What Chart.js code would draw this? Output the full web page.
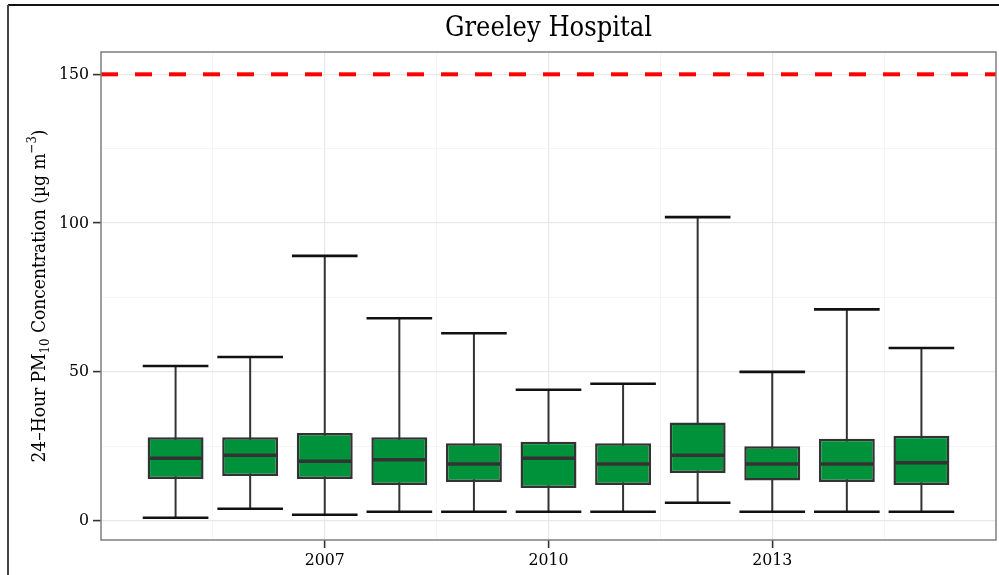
<!DOCTYPE html>
<html>
<head>
<meta charset="utf-8">
<script src="https://cdn.jsdelivr.net/npm/chart.js@4.4.1/dist/chart.umd.min.js"></script>
<style>
  html, body { margin: 0; padding: 0; background: #fff; }
  #wrap { width: 999px; height: 575px; position: relative; }
</style>
</head>
<body>
<div id="wrap"><canvas id="chart" width="999" height="575"></canvas></div>
<script>
const years = [2005, 2006, 2007, 2008, 2009, 2010, 2011, 2012, 2013, 2014, 2015];
const whiskerLow = [1, 4, 2, 3, 3, 3, 3, 6, 3, 3, 3];
const q1 = [14, 15, 14, 12, 13, 11, 12, 16, 13.5, 13, 12];
const median = [21, 22, 20, 20.5, 19, 21, 19, 22, 19, 19, 19.5];
const q3 = [28, 28, 29.5, 28, 26, 26.5, 26, 33, 25, 27.5, 28.5];
const whiskerHigh = [52, 55, 89, 68, 63, 44, 46, 102, 50, 71, 58];

const standard = 150;
const xRange = [2004, 2016];
const yRange = [-6.5, 157.5];
const xMajor = [2007, 2010, 2013];
const xMinor = [2005.5, 2008.5, 2011.5, 2014.5];
const yMajor = [0, 50, 100, 150];
const yMinor = [25, 75, 125];

const serif = '"DejaVu Serif Condensed", "Liberation Serif", serif';
Chart.defaults.font.family = serif;
Chart.defaults.color = '#111';

const boxData = years.map((y, i) => ({ x: y, y: [q1[i], q3[i]] }));
const limitData = [{ x: xRange[0], y: standard }, { x: xRange[1], y: standard }];

const isMajorX = v => xMajor.includes(v);
const isMajorY = v => yMajor.includes(v);

// whiskers, caps, medians, panel frame, title, axis label
const boxExtras = {
  id: 'boxExtras',
  beforeDraw(chart) {
    const ctx = chart.ctx;
    ctx.save();
    ctx.lineWidth = 2;
    ctx.strokeStyle = '#111';
    ctx.beginPath();
    ctx.moveTo(8, 5);
    ctx.lineTo(999, 5);
    ctx.stroke();
    ctx.strokeStyle = '#444';
    ctx.beginPath();
    ctx.moveTo(8, 5);
    ctx.lineTo(8, 575);
    ctx.stroke();
    ctx.restore();
  },
  beforeDatasetsDraw(chart) {
    const { ctx, scales: { x, y } } = chart;
    ctx.save();
    years.forEach((yr, i) => {
      const px = x.getPixelForValue(yr);
      ctx.strokeStyle = '#333';
      ctx.lineWidth = 2;
      ctx.beginPath();
      ctx.moveTo(px, y.getPixelForValue(whiskerLow[i]));
      ctx.lineTo(px, y.getPixelForValue(whiskerHigh[i]));
      ctx.stroke();
      const l = x.getPixelForValue(yr - 0.44);
      const r = x.getPixelForValue(yr + 0.44);
      ctx.strokeStyle = '#111';
      ctx.lineWidth = 2.6;
      [whiskerLow[i], whiskerHigh[i]].forEach(v => {
        const py = y.getPixelForValue(v);
        ctx.beginPath();
        ctx.moveTo(l, py);
        ctx.lineTo(r, py);
        ctx.stroke();
      });
    });
    ctx.restore();
  },
  afterDatasetsDraw(chart) {
    const { ctx, scales: { x, y }, chartArea } = chart;
    const meta = chart.getDatasetMeta(0);
    ctx.save();
    ctx.strokeStyle = '#333';
    ctx.lineWidth = 3.5;
    meta.data.forEach((bar, i) => {
      const half = bar.width / 2;
      const py = y.getPixelForValue(median[i]);
      ctx.beginPath();
      ctx.moveTo(bar.x - half + 1, py);
      ctx.lineTo(bar.x + half - 1, py);
      ctx.stroke();
    });
    ctx.strokeStyle = '#7f7f7f';
    ctx.lineWidth = 1.5;
    ctx.strokeRect(chartArea.left, chartArea.top, chartArea.right - chartArea.left, chartArea.bottom - chartArea.top);

    // title
    ctx.fillStyle = '#000';
    ctx.font = '27px ' + serif;
    ctx.textAlign = 'center';
    ctx.textBaseline = 'middle';
    ctx.fillText('Greeley Hospital', (chartArea.left + chartArea.right) / 2, 29);

    // y axis label with sub/superscript
    const parts = [
      { t: '24\u2013Hour PM', s: 19, dy: 0 },
      { t: '10', s: 13, dy: 4 },
      { t: ' Concentration (\u00b5g m', s: 19, dy: 0 },
      { t: '\u22123', s: 13, dy: -9 },
      { t: ')', s: 19, dy: 0 }
    ];
    let total = 0;
    parts.forEach(p => { ctx.font = p.s + 'px ' + serif; p.w = ctx.measureText(p.t).width; total += p.w; });
    ctx.translate(45, (chartArea.top + chartArea.bottom) / 2);
    ctx.rotate(-Math.PI / 2);
    ctx.textAlign = 'left';
    ctx.textBaseline = 'alphabetic';
    let cx = -total / 2;
    parts.forEach(p => {
      ctx.font = p.s + 'px ' + serif;
      ctx.fillText(p.t, cx, p.dy);
      cx += p.w;
    });
    ctx.restore();
  }
};

new Chart(document.getElementById('chart'), {
  type: 'bar',
  data: {
    datasets: [
      {
        type: 'bar',
        data: boxData,
        backgroundColor: '#00923a',
        borderColor: '#333',
        borderWidth: 2.5,
        borderSkipped: false,
        categoryPercentage: 0.75,
        barPercentage: 1
      },
      {
        type: 'line',
        data: limitData,
        borderColor: '#ff0000',
        borderWidth: 4,
        borderDash: [17, 17],
        pointRadius: 0,
        fill: false
      }
    ]
  },
  options: {
    responsive: false,
    animation: false,
    layout: { padding: { top: 52, right: 3, left: 0, bottom: 0 } },
    plugins: {
      legend: { display: false },
      title: { display: false },
      tooltip: { enabled: false }
    },
    scales: {
      x: {
        type: 'linear',
        min: xRange[0],
        max: xRange[1],
        offset: false,
        afterBuildTicks: s => { s.ticks = [...xMinor, ...xMajor].sort((a, b) => a - b).map(v => ({ value: v })); },
        afterFit: s => { s.height = 35; },
        border: { display: false },
        grid: {
          offset: false,
          color: c => isMajorX(c.tick.value) ? '#e8e8e8' : '#f3f3f3',
          lineWidth: c => isMajorX(c.tick.value) ? 1.2 : 0.8,
          tickLength: 8,
          tickColor: c => isMajorX(c.tick.value) ? '#333' : 'rgba(0,0,0,0)',
          tickWidth: 1.6
        },
        ticks: {
          autoSkip: false,
          maxRotation: 0,
          padding: 2,
          color: '#000',
          font: { size: 17.5 },
          callback: v => isMajorX(v) ? String(v) : ''
        }
      },
      y: {
        min: yRange[0],
        max: yRange[1],
        afterBuildTicks: s => { s.ticks = [...yMajor, ...yMinor].sort((a, b) => a - b).map(v => ({ value: v })); },
        afterFit: s => { s.width = 101; },
        border: { display: false },
        grid: {
          color: c => isMajorY(c.tick.value) ? '#e8e8e8' : '#f3f3f3',
          lineWidth: c => isMajorY(c.tick.value) ? 1.2 : 0.8,
          tickLength: 8,
          tickColor: c => isMajorY(c.tick.value) ? '#333' : 'rgba(0,0,0,0)',
          tickWidth: 1.6
        },
        ticks: {
          autoSkip: false,
          padding: 4,
          color: '#000',
          font: { size: 17.5 },
          callback: v => isMajorY(v) ? String(v) : ''
        }
      }
    }
  },
  plugins: [boxExtras]
});
</script>
</body>
</html>
